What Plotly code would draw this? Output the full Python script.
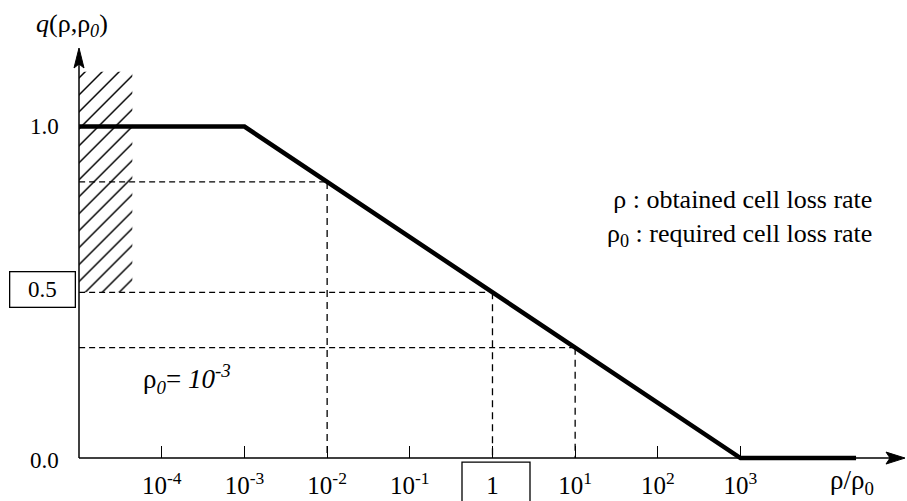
import plotly.graph_objects as go

# ---------------- data ----------------
curve_x = [1e-5, 1e-3, 1e3, 2.5e4]
curve_y = [1.0, 1.0, 0.0, 0.0]

guide_x = [1e-2, 1.0, 10.0]          # dashed guide points on the curve
guide_y = [0.833, 0.5, 0.333]

hatch_x = [1e-5, 4.4e-5]
hatch_y = [0.5, 1.165]

tick_vals = [1e-4, 1e-3, 1e-2, 1e-1, 1, 1e1, 1e2, 1e3]
tick_text = ["10<sup>-4</sup>", "10<sup>-3</sup>", "10<sup>-2</sup>", "10<sup>-1</sup>",
             "1", "10<sup>1</sup>", "10<sup>2</sup>", "10<sup>3</sup>"]

x_origin = 1e-5
# ---------------- layout constants ----------------
W, H = 907, 501
L, R, T, B = 75, 2, 48, 31
PW, PH = W - L - R, H - T - B
XR = [-5.05, 4.99]
YR = [-0.03, 1.237]
FONT = "Liberation Serif"
FS = 25


def px(x):
    return (x - L) / PW


def py(y):
    return (H - B - y) / PH


fig = go.Figure()

# hatched area
fig.add_trace(go.Scatter(
    x=[hatch_x[0], hatch_x[1], hatch_x[1], hatch_x[0], hatch_x[0]],
    y=[hatch_y[0], hatch_y[0], hatch_y[1], hatch_y[1], hatch_y[0]],
    mode="lines", fill="toself", line=dict(width=0, color="rgba(0,0,0,0)"),
    fillcolor="white",
    fillpattern=dict(shape="/", size=12, solidity=0.12, fgcolor="black",
                     fgopacity=1, bgcolor="white", fillmode="replace"),
    hoverinfo="skip", showlegend=False))

# dashed guides
hx, hy, vx, vy = [], [], [], []
for gx, gy in zip(guide_x, guide_y):
    hx += [x_origin, gx, None]
    hy += [gy, gy, None]
    vx += [gx, gx, None]
    vy += [gy, 0, None]
fig.add_trace(go.Scatter(x=hx, y=hy, mode="lines",
                         line=dict(color="black", width=1.3, dash="6px,4px"),
                         showlegend=False, hoverinfo="skip"))
fig.add_trace(go.Scatter(x=vx, y=vy, mode="lines",
                         line=dict(color="black", width=1.3, dash="7px,5px"),
                         showlegend=False, hoverinfo="skip"))

# main curve
fig.add_trace(go.Scatter(x=curve_x, y=curve_y, mode="lines",
                         line=dict(color="black", width=4.5),
                         showlegend=False, hoverinfo="skip"))

shapes = []
# axis lines
shapes.append(dict(type="line", xref="paper", yref="paper",
                   x0=px(79), x1=px(890), y0=py(460), y1=py(460),
                   line=dict(color="black", width=1.5)))
shapes.append(dict(type="line", xref="paper", yref="paper",
                   x0=px(79), x1=px(79), y0=py(460), y1=py(62),
                   line=dict(color="black", width=1.5)))
# arrowheads
shapes.append(dict(type="path", xref="paper", yref="paper",
                   xsizemode="pixel", ysizemode="pixel",
                   xanchor=px(905), yanchor=py(460),
                   path="M0,0 L-19,6 L-15,0 L-19,-6 Z",
                   fillcolor="black", line=dict(color="black", width=1)))
shapes.append(dict(type="path", xref="paper", yref="paper",
                   xsizemode="pixel", ysizemode="pixel",
                   xanchor=px(79), yanchor=py(48),
                   path="M0,0 L-5,-20 L0,-16 L5,-20 Z",
                   fillcolor="black", line=dict(color="black", width=1)))
# box around tick label "1"
shapes.append(dict(type="rect", xref="paper", yref="paper",
                   x0=px(462), x1=px(530), y0=py(464), y1=py(506),
                   line=dict(color="black", width=1.3)))

annotations = [
    dict(text="1.0", x=px(61), y=py(127), xanchor="right", yanchor="middle", size=23),
    dict(text="0.0", x=px(61), y=py(462), xanchor="right", yanchor="middle", size=23),
    dict(text="0.5", x=px(42.5), y=py(290.5), xanchor="center", yanchor="middle",
         width=64, height=34, borderpad=0, bordercolor="black", borderwidth=1.3, size=23),
    dict(text="<i>q</i>(ρ,ρ<sub><i>0</i></sub>)", x=px(72), y=py(25),
         xanchor="center", yanchor="middle", size=26),
    dict(text="ρ/ρ<sub>0</sub>", x=px(852), y=py(484), xanchor="center", yanchor="middle",
         size=27),
    dict(text="ρ<sub><i>0</i></sub>= <i>10<sup>-3</sup></i>", x=px(141), y=py(381),
         xanchor="left", yanchor="middle", size=27),
    dict(text="ρ : obtained cell loss rate<br>ρ<sub>0</sub> : required cell loss rate",
         x=px(874), y=py(219), xanchor="right", yanchor="middle", align="right", size=26),
]
for a in annotations:
    s = a.pop("size", FS)
    a.update(xref="paper", yref="paper", showarrow=False,
             font=dict(family=FONT, size=s, color="black"))

fig.update_layout(
    width=W, height=H,
    margin=dict(l=L, r=R, t=T, b=B, pad=0),
    paper_bgcolor="white", plot_bgcolor="white",
    shapes=shapes, annotations=annotations,
    font=dict(family=FONT, size=FS, color="black"),
    xaxis=dict(type="log", range=XR, showgrid=False, zeroline=False, showline=False,
               anchor="free", position=py(460),
               tickmode="array", tickvals=tick_vals, ticktext=tick_text,
               ticks="inside", ticklen=12, tickwidth=1.3, tickcolor="black",
               tickfont=dict(family=FONT, size=FS, color="black"),
               ticklabelstandoff=10),
    yaxis=dict(range=YR, visible=False, showgrid=False, zeroline=False),
)

fig.write_html("out.html")
